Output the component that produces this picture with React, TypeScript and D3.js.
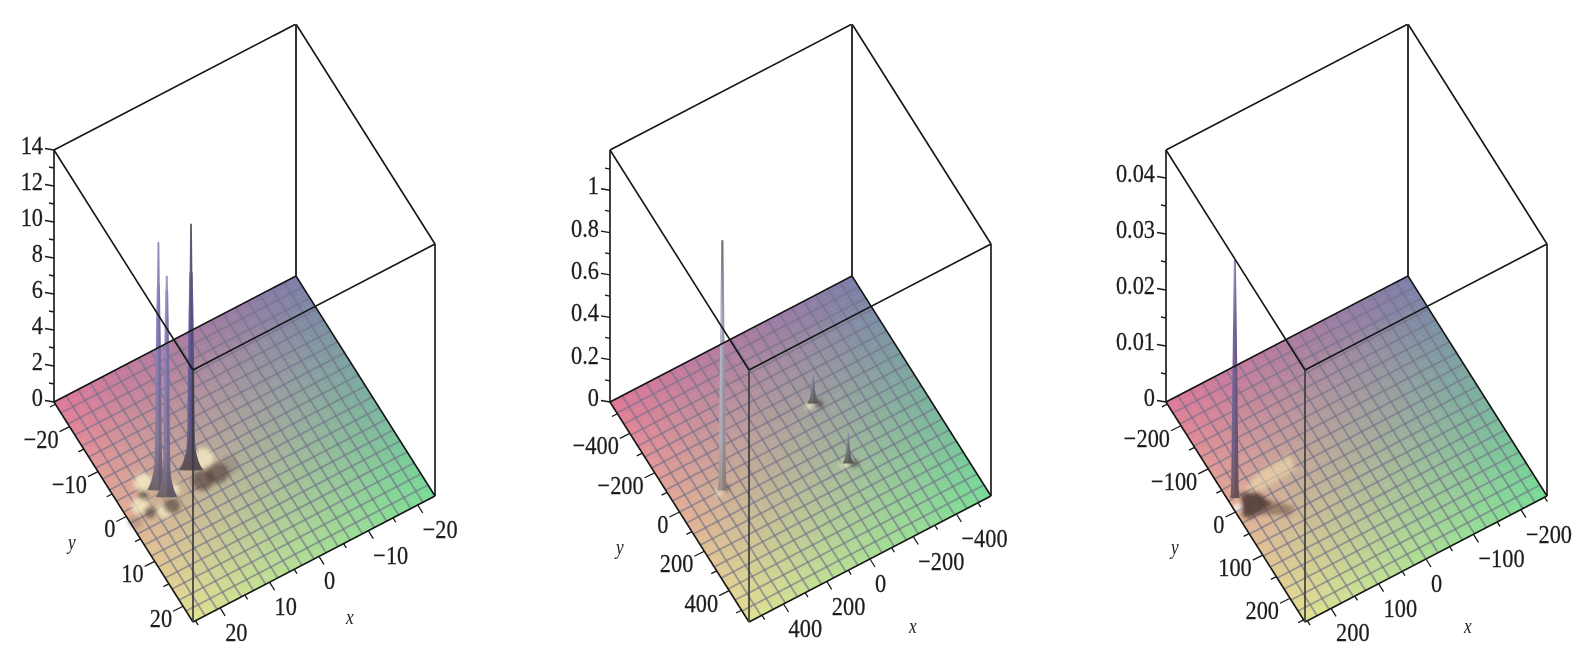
import React from "react";
import * as d3 from "d3";

const width = 1590;
const height = 656;
const panelOffset = 556; // horizontal distance between the three boxes
const origin = { x: 54, y: 402 }; // left floor corner of the first box
const yEdge = { x: 139, y: 220 }; // left corner -> front corner
const xEdge = { x: 242, y: -126 }; // front corner -> right corner
const boxHeight = 252;
const gridCells = 20;
const shadeCells = 40;

// axis values
const xDomainA = [25.5, -23.5];
const yDomainA = [-25.5, 23.5];
const zMaxA = 14;
const planeTicksA = [-20, -10, 0, 10, 20];
const planeMinorA = [-25, -15, -5, 5, 15, 25];
const zTicksA = [0, 2, 4, 6, 8, 10, 12, 14];
const zMinorA = [1, 3, 5, 7, 9, 11, 13];

const xDomainB = [560, -560];
const yDomainB = [-560, 560];
const zMaxB = 1.19;
const planeTicksB = [-400, -200, 0, 200, 400];
const planeMinorB = [-500, -300, -100, 100, 300, 500];
const zTicksB = [0, 0.2, 0.4, 0.6, 0.8, 1];
const zMinorB = [0.1, 0.3, 0.5, 0.7, 0.9, 1.1];

const xDomainC = [255, -255];
const yDomainC = [-255, 255];
const zMaxC = 0.045;
const planeTicksC = [-200, -100, 0, 100, 200];
const planeMinorC = [-250, -150, -50, 50, 150, 250];
const zTicksC = [0, 0.01, 0.02, 0.03, 0.04];
const zMinorC = [0.005, 0.015, 0.025, 0.035];

// surface colours at the corners of the floor
const colorLeft = "#e07898";
const colorBack = "#7d7da8";
const colorRight = "#78dc96";
const colorFront = "#e1e191";

// peaks: x, y, z, width factor, tone
type Spike = [number, number, number, number, string];
const spikesA: Spike[] = [
  [18.1, -1.6, 11.4, 1.25, "lavender"],
  [18.1, -1.6, 13.8, 0.8, "lavender"],
  [11.2, -2.1, 11, 1.35, "violet"],
  [11.2, -2.1, 13.7, 0.75, "graphite"],
  [17.5, 0.3, 11.5, 1.2, "lavender"],
  [17.5, 0.3, 12.3, 0.8, "lavender"],
];
const spikesB: Spike[] = [
  [363, 2, 1.18, 1, "pale"],
  [-144, -149, 0.15, 1, "steel"],
  [-134, 151, 0.15, 1, "steel"],
];
const spikesC: Spike[] = [[242, -25, 0.0425, 1, "plum"]];

// light and shadow on the floor round the peaks: x, y, radius, tone
type Blob = [number, number, number, string];
const blobsA: Blob[] = [
  [18, -0.5, 4.6, "tan"],
  [9, -1, 3.4, "tan"],
  [8.2, -3.1, 1.9, "light"],
  [19.6, -4.3, 1.7, "light"],
  [22.4, -0.6, 1.5, "light"],
  [19.1, 2.4, 1.3, "light"],
  [16, -0.5, 1.3, "light"],
  [7.5, 0.7, 2, "dark"],
  [10.4, 0.6, 2, "dark"],
  [5, 0.4, 1.8, "faint"],
  [20.9, -2.1, 0.9, "dark"],
  [21.5, 1.4, 1.1, "dark"],
  [17.5, 2.2, 1.5, "dark"],
  [24.7, 1.7, 1.3, "faint"],
];
const blobsB: Blob[] = [
  [-125, -149, 17, "light"],
  [-165, -136, 17, "dark"],
  [-118, 146, 17, "light"],
  [-155, 163, 17, "dark"],
  [380, 5, 15, "light"],
  [345, 0, 15, "dark"],
];
const blobsC: Blob[] = [[248, -7, 7, "white"]];

// larger patches on the third floor, corners as x, y
const patchCreamC = [
  [216, -33],
  [171, -49],
  [111, -50],
  [118, -20],
  [191, -14.5],
];
const patchStreakC = [
  [202, -2],
  [155, 45],
  [171, 54.5],
  [227, 23],
];
const patchWedgeC = [
  [226, -28],
  [198, -11],
  [190, 19],
  [238, 25],
  [248, 13],
];

// the y / x axis title positions differ a little between boxes
const panels = [
  {
    xDomain: xDomainA,
    yDomain: yDomainA,
    zMax: zMaxA,
    planeTicks: planeTicksA,
    planeMinor: planeMinorA,
    zTicks: zTicksA,
    zMinor: zMinorA,
    spikes: spikesA,
    blobs: blobsA,
    patches: [] as { points: number[][]; fill: string; opacity: number }[],
    yTitle: [72, 549],
    xTitle: [350, 624],
  },
  {
    xDomain: xDomainB,
    yDomain: yDomainB,
    zMax: zMaxB,
    planeTicks: planeTicksB,
    planeMinor: planeMinorB,
    zTicks: zTicksB,
    zMinor: zMinorB,
    spikes: spikesB,
    blobs: blobsB,
    patches: [] as { points: number[][]; fill: string; opacity: number }[],
    yTitle: [64, 554],
    xTitle: [357, 633],
  },
  {
    xDomain: xDomainC,
    yDomain: yDomainC,
    zMax: zMaxC,
    planeTicks: planeTicksC,
    planeMinor: planeMinorC,
    zTicks: zTicksC,
    zMinor: zMinorC,
    spikes: spikesC,
    blobs: blobsC,
    patches: [
      { points: patchCreamC, fill: "#f6e3ae", opacity: 0.55 },
      { points: patchStreakC, fill: "#6d5348", opacity: 0.55 },
      { points: patchWedgeC, fill: "#57403c", opacity: 0.95 },
    ],
    yTitle: [63, 554],
    xTitle: [356, 633],
  },
];

const profiles: Record<string, { level: number[]; half: number[] }> = {
  flared: {
    level: [0, 0.03, 0.06, 0.1, 0.15, 0.3, 0.6, 1],
    half: [9, 6.5, 5, 3.6, 3, 2.6, 2.2, 1.2],
  },
  slim: {
    level: [0, 0.015, 0.04, 0.08, 0.15, 0.3, 0.6, 1],
    half: [5, 4.2, 3.8, 3.6, 3.4, 3, 2.2, 1],
  },
  cone: {
    level: [0, 0.15, 0.3, 0.5, 0.7, 1],
    half: [6, 3.5, 2.5, 1.7, 1.2, 0.7],
  },
};

const tones: Record<string, string[]> = {
  lavender: ["#a8a2d8", "#8a80bc", "#857a9e", "#6e6268"],
  violet: ["#7c75b4", "#675fa0", "#6f648a", "#5e5052"],
  graphite: ["#666670", "#5f5a88", "#5c558c", "#5e5052"],
  pale: ["#74747e", "#b4b4cc", "#aeaab0", "#9c8f87"],
  steel: ["#a4a4c4", "#85869e", "#6c7072", "#5f6258"],
  plum: ["#9a92c6", "#7668a0", "#735e80", "#75595a"],
};

const blobStyles: Record<string, { fill: string; opacity: number }> = {
  white: { fill: "#fbfbff", opacity: 0.95 },
  light: { fill: "#fbf1c8", opacity: 0.75 },
  tan: { fill: "#c8b090", opacity: 0.5 },
  dark: { fill: "#4a3a38", opacity: 0.62 },
  faint: { fill: "#6a5a58", opacity: 0.3 },
};

const signed = (v: number) => `${v}`.replace("-", "\u2212");
const labelFont = "'Liberation Serif', 'Times New Roman', serif";
const narrow = (x: number, y: number) => `translate(${x},${y}) scale(0.86,1)`;

const colorAt = (u: number, v: number) => {
  // u runs along the y edge, v along the x edge
  const near = d3.interpolateRgb(colorLeft, colorBack)(v);
  const far = d3.interpolateRgb(colorFront, colorRight)(v);
  return d3.interpolateRgb(near, far)(u);
};

const profileFor = (tone: string) => {
  if (tone === "steel") return profiles.cone;
  if (tone === "pale" || tone === "plum") return profiles.slim;
  return profiles.flared;
};

const Panel = ({ panel, index }: { panel: (typeof panels)[number]; index: number }) => {
  const left = origin.x + index * panelOffset;
  const tx = d3.scaleLinear().domain(panel.xDomain).range([0, 1]);
  const ty = d3.scaleLinear().domain(panel.yDomain).range([0, 1]);
  const z = d3.scaleLinear().domain([0, panel.zMax]).range([origin.y, origin.y - boxHeight]);

  const at = (u: number, v: number): [number, number] => [
    left + u * yEdge.x + v * xEdge.x,
    origin.y + u * yEdge.y + v * xEdge.y,
  ];
  const floor = (x: number, y: number) => at(ty(y), tx(x));
  const lift = z(panel.zMax) - z(0);

  const L = at(0, 0);
  const F = at(1, 0);
  const R = at(1, 1);
  const B = at(0, 1);
  const up = ([x, y]: [number, number]): [number, number] => [x, y + lift];
  const seg = (a: [number, number], b: [number, number]) => d3.line()([a, b]) || "";
  const poly = d3.line().curve(d3.curveLinearClosed);
  const softPoly = d3.line().curve(d3.curveCardinalClosed);

  const shade = d3.range(shadeCells).flatMap((i) =>
    d3.range(shadeCells).map((j) => {
      const u0 = i / shadeCells;
      const u1 = (i + 1) / shadeCells;
      const v0 = j / shadeCells;
      const v1 = (j + 1) / shadeCells;
      return {
        d: poly([at(u0, v0), at(u1, v0), at(u1, v1), at(u0, v1)]) || "",
        fill: colorAt((u0 + u1) / 2, (v0 + v1) / 2),
      };
    })
  );

  const spikeShape = (s: Spike) => {
    const [sx, sy, sz, w, tone] = s;
    const [cx, cy] = floor(sx, sy);
    const prof = profileFor(tone);
    const top = cy + z(sz) - origin.y;
    const rows = prof.level.map((l, i) => ({ y: cy + (top - cy) * l, r: prof.half[i] * w }));
    const body = d3
      .area<{ y: number; r: number }>()
      .curve(d3.curveMonotoneY)
      .y((d) => d.y)
      .x0((d) => cx - d.r)
      .x1((d) => cx + d.r);
    const shadow = d3
      .area<{ y: number; r: number }>()
      .curve(d3.curveMonotoneY)
      .y((d) => d.y)
      .x0((d) => cx + d.r * 0.05)
      .x1((d) => cx + d.r);
    return { body: body(rows) || "", shadow: shadow(rows) || "", cy, top };
  };

  const inside = (v: number, domain: number[]) =>
    v >= Math.min(domain[0], domain[1]) && v <= Math.max(domain[0], domain[1]);

  const tickGroup = (values: number[], major: boolean) => (
    <g stroke="#1a1a1a" strokeWidth={1.3}>
      {values
        .filter((v) => inside(v, panel.yDomain))
        .map((v) => {
          const a = floor(panel.xDomain[0], v);
          const k = major ? 1 : 0.55;
          return <path key={`y${v}`} d={seg(a, [a[0] - 10 * k, a[1] + 5 * k])} />;
        })}
      {values
        .filter((v) => inside(v, panel.xDomain))
        .map((v) => {
          const a = floor(v, panel.yDomain[1]);
          const k = major ? 1 : 0.55;
          return <path key={`x${v}`} d={seg(a, [a[0] + 5 * k, a[1] + 8 * k])} />;
        })}
    </g>
  );

  return (
    <g>
      <g>
        {shade.map((c, i) => (
          <path key={i} d={c.d} fill={c.fill} stroke={c.fill} strokeWidth={0.6} />
        ))}
      </g>
      <g stroke="#72708a" strokeOpacity={0.64} strokeWidth={1.8} fill="none">
        {d3.range(1, gridCells).map((i) => (
          <path key={`u${i}`} d={seg(at(i / gridCells, 0), at(i / gridCells, 1))} />
        ))}
        {d3.range(1, gridCells).map((i) => (
          <path key={`v${i}`} d={seg(at(0, i / gridCells), at(1, i / gridCells))} />
        ))}
      </g>

      <g filter="url(#patchBlur)">
        {panel.patches.map((p, i) => (
          <path
            key={i}
            d={poly(p.points.map(([x, y]) => floor(x, y))) || ""}
            fill={p.fill}
            fillOpacity={p.opacity}
          />
        ))}
        {panel.blobs.map(([x, y, r, tone], i) => (
          <path
            key={i}
            d={
              softPoly(
                d3
                  .range(8)
                  .map((k) => (k / 8) * 2 * Math.PI)
                  .map((a) => floor(x + r * Math.cos(a), y + r * Math.sin(a)))
              ) || ""
            }
            fill={blobStyles[tone].fill}
            fillOpacity={blobStyles[tone].opacity}
          />
        ))}
      </g>

      {panel.spikes.map((s, i) => {
        const shape = spikeShape(s);
        const id = `spike-${index}-${i}`;
        const stops = tones[s[4]];
        return (
          <g key={i}>
            <defs>
              <linearGradient id={id} x1="0" x2="0" y1="0" y2="1">
                <stop offset="0" stopColor={stops[0]} />
                <stop offset="0.3" stopColor={stops[1]} />
                <stop offset="0.8" stopColor={stops[2]} />
                <stop offset="1" stopColor={stops[3]} />
              </linearGradient>
            </defs>
            <path d={shape.body} fill={`url(#${id})`} />
            <path d={shape.shadow} fill="#3a3048" fillOpacity={0.22} />
          </g>
        );
      })}

      <g stroke="#151515" strokeWidth={1.6} fill="none" strokeLinejoin="round">
        <path d={seg(L, B)} />
        <path d={seg(B, R)} />
        <path d={seg(L, F)} />
        <path d={seg(F, R)} />
        <path d={seg(up(L), up(B))} />
        <path d={seg(up(B), up(R))} />
        <path d={seg(up(L), up(F))} />
        <path d={seg(up(F), up(R))} />
        <path d={seg(L, up(L))} />
        <path d={seg(R, up(R))} />
        <path d={seg(B, up(B))} strokeWidth={2} stroke="#333" />
        <path d={seg(F, up(F))} strokeWidth={1.7} stroke="#3c3c3c" />
      </g>

      {tickGroup(panel.planeTicks, true)}
      {tickGroup(panel.planeMinor, false)}
      <g stroke="#1a1a1a" strokeWidth={1.3}>
        {panel.zTicks.map((v) => (
          <path key={v} d={seg([left, z(v)], [left - 9, z(v) - 1.5])} />
        ))}
        {panel.zMinor.map((v) => (
          <path key={v} d={seg([left, z(v)], [left - 5, z(v) - 1])} />
        ))}
      </g>

      <g fontFamily={labelFont} fontSize={26} fill="#1c1c1c" stroke="#1c1c1c" strokeWidth={0.25}>
        {panel.zTicks.map((v) => (
          <text key={v} textAnchor="end" transform={narrow(left - 11, z(v) + 4)}>
            {v}
          </text>
        ))}
        {panel.planeTicks.map((v) => {
          const a = floor(panel.xDomain[0], v);
          return (
            <text key={`y${v}`} textAnchor="end" transform={narrow(a[0] - 11, a[1] + 21)}>
              {signed(v)}
            </text>
          );
        })}
        {panel.planeTicks.map((v) => {
          const a = floor(v, panel.yDomain[1]);
          return (
            <text key={`x${v}`} transform={narrow(a[0] + 5, a[1] + 33)}>
              {signed(v)}
            </text>
          );
        })}
      </g>
      <g fontFamily={labelFont} fontSize={20} fontStyle="italic" fill="#222">
        <text transform={narrow(panel.yTitle[0] + index * panelOffset - 4, panel.yTitle[1])}>y</text>
        <text transform={narrow(panel.xTitle[0] + index * panelOffset - 4, panel.xTitle[1])}>x</text>
      </g>
    </g>
  );
};

export default function App() {
  return (
    <svg
      width={width}
      height={height}
      viewBox={`0 0 ${width} ${height}`}
      style={{ display: "block", position: "absolute", left: 0, top: 0, background: "#fff" }}
    >
      <defs>
        <filter id="soft" x="0" y="0" width="100%" height="100%">
          <feGaussianBlur stdDeviation="0.6" />
        </filter>
        <filter id="patchBlur" x="-20%" y="-20%" width="140%" height="140%">
          <feGaussianBlur stdDeviation="2" />
        </filter>
      </defs>
      <g filter="url(#soft)">
        {panels.map((p, i) => (
          <Panel key={i} panel={p} index={i} />
        ))}
      </g>
    </svg>
  );
}
